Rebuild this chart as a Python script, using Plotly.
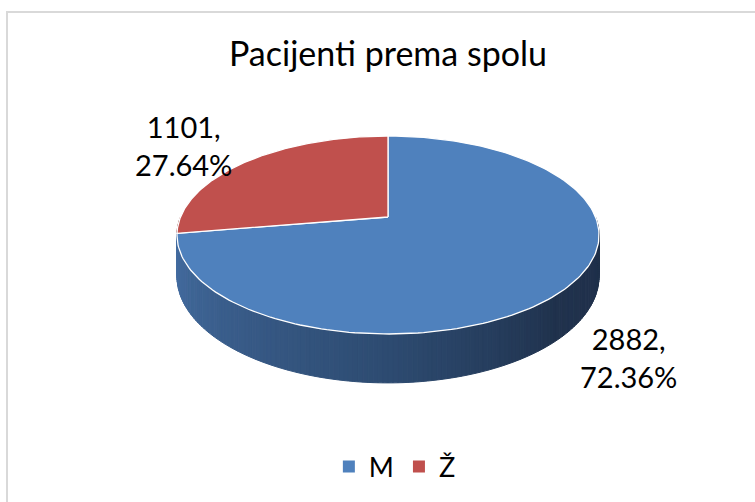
import math
import plotly.graph_objects as go

# ---- data ----
categories = ["M", "Ž"]
values = [2882, 1101]
colors_top = ["#4F81BD", "#C0504D"]
title_text = "Pacijenti prema spolu"

# ---- geometry (pixel space) ----
W, H = 755, 502
CX, CY = 388, 217          # pie centre on screen
A, B = 207.5, 95.7         # horizontal / vertical radius
P = 0.182                  # perspective factor
DEPTH = 40                 # thickness of the pie
FONT = "Lato"

total = sum(values)
fracs = [v / total for v in values]


def top_pt(t):
    s, c = math.sin(t), math.cos(t)
    d = 1 + P * s
    return CX + A * c / d, CY - B * s / d


def bot_pt(t):
    x, y = top_pt(t)
    return x, y + DEPTH / (1 + P * math.sin(t))


def lerp(c1, c2, f):
    return tuple(c1[i] + (c2[i] - c1[i]) * f for i in range(3))


def side_color_blue(t):
    # t in [pi, 2pi]; light on the left, dark on the right
    f = (t - math.pi) / math.pi
    stops = [(0.0, (72, 114, 168)), (0.5, (45, 75, 113)), (0.75, (32, 50, 77)), (1.0, (31, 48, 74))]
    for i in range(len(stops) - 1):
        f0, c0 = stops[i]
        f1, c1 = stops[i + 1]
        if f <= f1:
            return lerp(c0, c1, (f - f0) / (f1 - f0))
    return stops[-1][1]


fig = go.Figure()

# slice angles: red (Ž) starts at 12 o'clock going counter-clockwise, blue takes the rest
start_red = math.pi / 2
end_red = start_red + 2 * math.pi * fracs[1]
start_blue = end_red
end_blue = start_red + 2 * math.pi

# ---- side (front visible part, t in [pi, 2pi]) ----
N = 160
for i in range(N):
    t0 = math.pi + math.pi * i / N
    t1 = math.pi + math.pi * (i + 1) / N
    tm = (t0 + t1) / 2
    if tm < end_red:
        col = (140, 55, 52)
    else:
        col = side_color_blue(tm)
    rgb = "rgb(%d,%d,%d)" % tuple(int(round(v)) for v in col)
    pts = [top_pt(t0), top_pt(t1), bot_pt(t1), bot_pt(t0)]
    xs = [p[0] for p in pts] + [pts[0][0]]
    ys = [p[1] for p in pts] + [pts[0][1]]
    fig.add_trace(go.Scatter(x=xs, y=ys, mode="lines", fill="toself", fillcolor=rgb,
                             line=dict(color=rgb, width=1), hoverinfo="skip", showlegend=False))


# ---- top faces ----
def slice_poly(a0, a1, n=200):
    xs, ys = [CX], [CY]
    for k in range(n + 1):
        t = a0 + (a1 - a0) * k / n
        x, y = top_pt(t)
        xs.append(x)
        ys.append(y)
    xs.append(CX)
    ys.append(CY)
    return xs, ys


for (a0, a1), col, name in [((start_blue, end_blue), colors_top[0], categories[0]),
                            ((start_red, end_red), colors_top[1], categories[1])]:
    xs, ys = slice_poly(a0, a1)
    fig.add_trace(go.Scatter(x=xs, y=ys, mode="lines", fill="toself", fillcolor=col,
                             line=dict(color="white", width=1.3), hoverinfo="skip", showlegend=False))

# ---- legend entries ----
for name, col in zip(categories, colors_top):
    fig.add_trace(go.Scatter(x=[None], y=[None], mode="markers", name=name,
                             marker=dict(symbol="square", size=11, color=col)))

# ---- data labels ----
label_pos = [(628, 357), (183, 145)]
for v, f, (lx, ly) in zip(values, fracs, label_pos):
    fig.add_annotation(x=lx, y=ly, text=f"{v},<br>{f*100:.2f}%", showarrow=False,
                       font=dict(family=FONT, size=29, color="#000"), align="center",
                       xanchor="center", yanchor="middle")

fig.add_annotation(x=CX, y=52, text=title_text, showarrow=False,
                   font=dict(family=FONT, size=34, color="#000"),
                   xanchor="center", yanchor="middle")

fig.add_shape(type="rect", x0=7, y0=12, x1=W + 20, y1=H + 20, xref="x", yref="y",
              line=dict(color="#D9D9D9", width=2), layer="below")

fig.update_layout(
    width=W, height=H, margin=dict(l=0, r=0, t=0, b=0),
    paper_bgcolor="white", plot_bgcolor="white",
    xaxis=dict(range=[0, W], visible=False, fixedrange=True),
    yaxis=dict(range=[H, 0], visible=False, fixedrange=True),
    showlegend=True,
    hovermode=False,
    legend=dict(orientation="h", x=0.523, xanchor="center", y=(H - 467) / H, yanchor="middle",
                font=dict(family=FONT, size=27, color="#000"), itemsizing="constant",
                bgcolor="rgba(0,0,0,0)", itemwidth=30, tracegroupgap=0),
)

fig.write_html("out.html", config={"displayModeBar": False},
               post_script="document.body.style.margin='0';document.body.style.overflow='hidden';")
